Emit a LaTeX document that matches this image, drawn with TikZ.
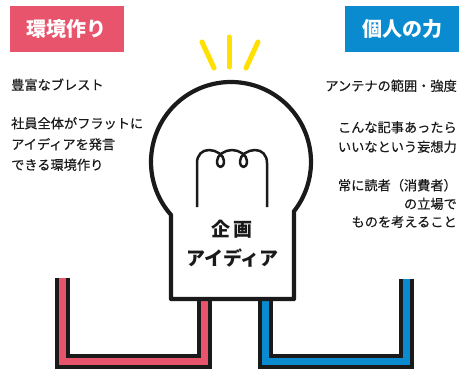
\documentclass[tikz,border=0pt]{standalone}
\usepackage{fontspec}
\setmainfont{Noto Sans CJK JP}
\newfontfamily\notefont{Noto Sans CJK JP}[FakeBold=0.35]
\definecolor{wirered}{HTML}{E8546B}
\definecolor{wireblue}{HTML}{0A8BCF}
\definecolor{raygold}{HTML}{FFE000}
\definecolor{ink}{HTML}{1A1A1A}
\begin{document}
\begin{tikzpicture}[x=1pt,y=-1pt,
  tag/.style={fill=#1, text=white, font=\fontsize{20}{20}\selectfont\bfseries,
    minimum width=114pt, minimum height=46pt, inner sep=0pt},
  note/.style={font=\notefont\fontsize{13.2}{13.2}\selectfont, text=ink, inner sep=0pt,
    text height=0.88em, text depth=0.12em},
  leftnote/.style={note, anchor=west},
  rightnote/.style={note, anchor=east},
  title/.style={font=\fontsize{19}{19}\selectfont\bfseries, text=ink, inner sep=0pt,
    text height=0.88em, text depth=0.12em},
  ray/.style={draw=raygold, line width=5pt, line cap=round},
  cable/.style={draw=ink, line width=4pt, double=#1, double distance=7pt,
    line cap=butt, line join=miter},
  bulb/.style={draw=ink, line width=4.2pt, fill=white, line join=round},
  filament/.style={draw=ink, line width=2.5pt, line cap=butt, line join=round},
]
\useasboundingbox (0,0) rectangle (461,370);

% headings
\node[tag=wirered]  (env)  at (67,29)  {環境作り};
\node[tag=wireblue] (self) at (402,29) {個人の力};

% left-hand notes
\node[leftnote] (l1) at (11,86)    {豊富なブレスト};
\node[leftnote] (l2) at (11,124.5) {社員全体がフラットに};
\node[leftnote] (l3) at (11,145.5) {アイディアを発言};
\node[leftnote] (l4) at (11,166)   {できる環境作り};

% right-hand notes
\node[rightnote] (r1) at (457,87)    {アンテナの範囲・強度};
\node[rightnote] (r2) at (457,128.5) {こんな記事あったら};
\node[rightnote] (r3) at (457,148)   {いいなという妄想力};
\node[rightnote] (r4) at (457,186.5) {常に読者（消費者）};
\node[rightnote] (r5) at (457,205)   {の立場で};
\node[rightnote] (r6) at (457,223)   {ものを考えること};

% light rays
\draw[ray] (202,42) -- (214,68);
\draw[ray] (229,37) -- (229,67);
\draw[ray] (258,42) -- (246,68);

% cables running under the base
\draw[cable=wirered]  (62.5,278) -- (62.5,361) -- (204,361) -- (204,292);
\draw[cable=wireblue] (265.5,292) -- (265.5,361) -- (406,361) -- (406,279);

% bulb glass and base
\draw[bulb] (171,299) -- (171,214.9)
  arc[start angle=138.59, end angle=398.05, radius=80] -- (294,299) -- cycle;

% coiled filament
\draw[filament] (197,207) -- (197,163)
  .. controls (197,155) and (202,150) .. (209,150)
  .. controls (216,150) and (224,155) .. (224,161)
  .. controls (224,165) and (222.5,167) .. (220.5,167)
  .. controls (218.5,167) and (217,165) .. (217,161)
  .. controls (217,155) and (225,150) .. (232,150)
  .. controls (239,150) and (247,155) .. (247,161)
  .. controls (247,165) and (245.5,167) .. (243.5,167)
  .. controls (241.5,167) and (240,165) .. (240,161)
  .. controls (240,155) and (248,150) .. (255,150)
  .. controls (262,150) and (267,155) .. (267,163) -- (267,207);

% label inside the base
\node[title] (t1) at (232,233)   {企\hspace{3pt}画};
\node[title] (t2) at (232.5,262) {アイディア};
\end{tikzpicture}
\end{document}
